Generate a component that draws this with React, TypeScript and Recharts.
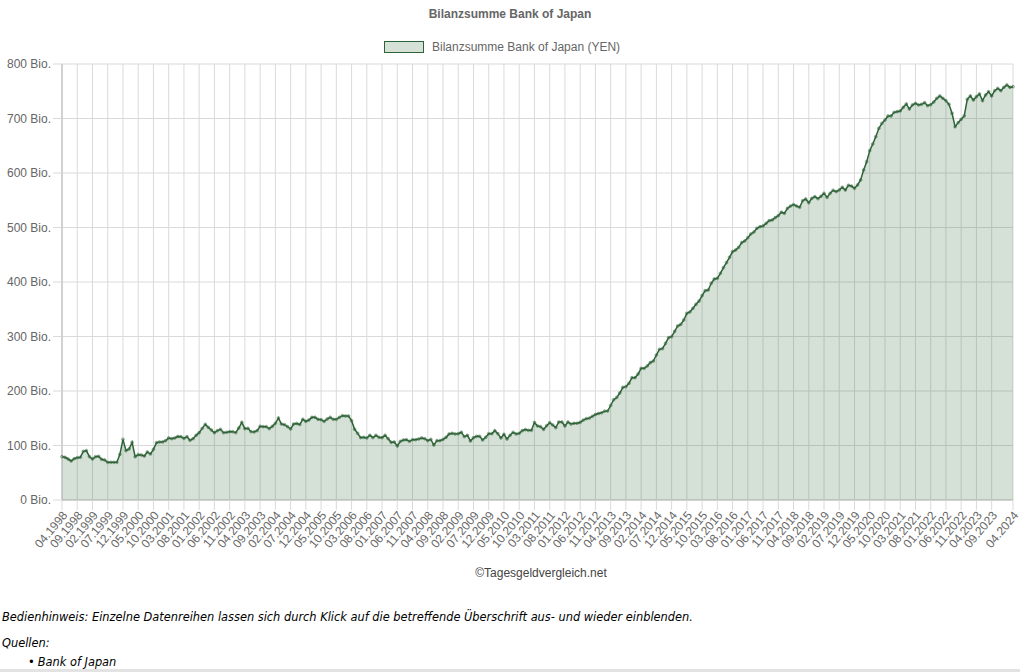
import React from 'react';
import { AreaChart, Area, XAxis, YAxis, CartesianGrid } from 'recharts';

// Bilanzsumme Bank of Japan, monthly from 04.1998 to 04.2024, in Bio. YEN
const startYear = 1998;
const startMonth = 4;

const bilanzsumme: number[] = [
  79.5, 78.3, 75.2, 71.6, 75.8, 77.7, 78.3, 89.3, 90.5, 79.5, 75.2, 79.5,
  80.1, 74.6, 73.4, 69.1, 69.1, 69.1, 69.1, 83.8, 111.3, 90.5, 93.6, 105.8,
  79.5, 83.2, 82.6, 80.7, 88.1, 84.4, 93.0, 105.2, 106.4, 106.4, 108.9, 113.8,
  112.5, 113.8, 116.5, 116.2, 113.1, 116.2, 109.5, 112.5, 118.7, 123.5, 131.5, 138.8,
  133.3, 128.4, 123.5, 127.2, 129.7, 123.5, 124.2, 125.4, 125.4, 123.5, 132.1, 142.5,
  130.9, 131.5, 125.4, 124.8, 127.2, 135.2, 134.6, 134.6, 130.9, 135.2, 140.7, 150.5,
  139.4, 138.2, 134.6, 130.3, 139.4, 140.4, 138.5, 148.0, 144.3, 146.8, 151.7, 151.7,
  148.0, 147.4, 144.3, 148.6, 151.7, 148.0, 148.0, 151.7, 154.7, 154.1, 154.1, 145.5,
  129.7, 122.3, 114.4, 115.0, 113.8, 118.7, 114.4, 118.7, 115.0, 114.4, 118.7, 112.5,
  105.8, 106.4, 99.1, 107.6, 110.1, 110.7, 107.6, 110.7, 110.7, 111.9, 113.8, 112.5,
  108.9, 111.3, 100.9, 108.9, 108.9, 111.3, 115.0, 121.1, 122.3, 121.1, 121.7, 124.2,
  116.2, 118.7, 108.3, 114.4, 116.8, 116.8, 110.1, 115.0, 121.7, 121.7, 127.2, 121.7,
  113.8, 120.5, 111.9, 118.7, 124.2, 121.1, 122.3, 127.2, 129.1, 127.8, 127.8, 142.2,
  135.8, 134.6, 129.7, 136.4, 141.9, 137.6, 132.7, 143.1, 143.1, 135.8, 143.1, 139.4,
  140.7, 140.7, 142.5, 146.5, 149.2, 150.2, 153.5, 156.9, 158.7, 160.0, 163.0, 163.3,
  173.4, 184.1, 188.1, 196.3, 206.7, 208.0, 214.1, 224.5, 224.5, 231.2, 241.6, 241.6,
  245.9, 252.0, 255.0, 266.0, 276.5, 277.7, 287.5, 297.9, 299.7, 309.5, 319.3, 322.3,
  330.3, 342.5, 345.0, 351.7, 359.0, 365.0, 375.0, 384.1, 385.3, 397.6, 405.5, 406.7,
  415.9, 426.3, 435.5, 445.3, 455.7, 458.7, 463.6, 472.2, 475.2, 481.3, 488.1, 491.7,
  498.5, 501.5, 502.8, 507.6, 512.5, 513.8, 518.0, 521.7, 528.0, 526.0, 535.2, 539.4,
  541.9, 539.4, 537.0, 549.2, 552.3, 545.6, 553.5, 556.6, 552.9, 557.2, 562.7, 555.3,
  562.7, 568.2, 565.8, 568.8, 573.7, 568.8, 577.4, 576.1, 571.9, 578.0, 587.2, 605.5,
  620.8, 641.0, 653.2, 666.7, 682.0, 691.1, 697.2, 704.6, 704.6, 711.3, 712.5, 713.8,
  720.5, 726.6, 717.4, 724.8, 727.8, 724.8, 726.0, 729.1, 723.5, 725.4, 730.3, 737.0,
  741.3, 737.0, 732.7, 726.0, 709.5, 685.0, 692.4, 698.5, 704.6, 735.2, 741.3, 733.9,
  740.1, 745.0, 732.7, 743.1, 749.2, 741.3, 751.1, 755.3, 751.1, 757.2, 761.5, 757.2,
  758.4,
];

const monthLabels: string[] = bilanzsumme.map((_, i) => {
  const k = startMonth - 1 + i;
  const m = (k % 12) + 1;
  const y = startYear + Math.floor(k / 12);
  return `${String(m).padStart(2, '0')}.${y}`;
});

const xTickLabels: string[] = [
  '04.1998', '09.1998', '02.1999', '07.1999', '12.1999', '05.2000', '10.2000', '03.2001',
  '08.2001', '01.2002', '06.2002', '11.2002', '04.2003', '09.2003', '02.2004', '07.2004',
  '12.2004', '05.2005', '10.2005', '03.2006', '08.2006', '01.2007', '06.2007', '11.2007',
  '04.2008', '09.2008', '02.2009', '07.2009', '12.2009', '05.2010', '10.2010', '03.2011',
  '08.2011', '01.2012', '06.2012', '11.2012', '04.2013', '09.2013', '02.2014', '07.2014',
  '12.2014', '05.2015', '10.2015', '03.2016', '08.2016', '01.2017', '06.2017', '11.2017',
  '04.2018', '09.2018', '02.2019', '07.2019', '12.2019', '05.2020', '10.2020', '03.2021',
  '08.2021', '01.2022', '06.2022', '11.2022', '04.2023', '09.2023', '04.2024',
];

const yTickValues: number[] = [0, 100, 200, 300, 400, 500, 600, 700, 800];

const seriesName = 'Bilanzsumme Bank of Japan (YEN)';
const chartTitle = 'Bilanzsumme Bank of Japan';

const data = monthLabels.map((label, i) => ({ label, value: bilanzsumme[i] }));

const LINE = '#2e6337';
const FONT = '"Liberation Sans", Arial, Helvetica, sans-serif';
const NOTE_FONT = '"DejaVu Sans", Verdana, sans-serif';
const GRID = '#dadada';

const RotTick = (props: any) => {
  const { x, y, payload } = props;
  const ax = x + 3;
  const ay = y + 1;
  return (
    <text
      x={ax}
      y={ay}
      transform={`rotate(-50, ${ax}, ${ay})`}
      textAnchor="end"
      dominantBaseline="central"
      fontSize={12}
      fill="#666"
      fontFamily={FONT}
    >
      {payload.value}
    </text>
  );
};

export default function App() {
  return (
    <div style={{ position: 'absolute', left: 0, top: 0, width: 1020, height: 672, background: '#fff', overflow: 'hidden' }}>
      <div style={{ position: 'absolute', left: 0, top: 7, width: 1020, textAlign: 'center', fontFamily: FONT, fontSize: 12, fontWeight: 'bold', color: '#666' }}>
        {chartTitle}
      </div>
      <div style={{ position: 'absolute', left: 384, top: 41, width: 40, height: 12, boxSizing: 'border-box', border: `1px solid ${LINE}`, background: 'rgba(46,99,55,0.2)' }} />
      <div style={{ position: 'absolute', left: 432, top: 40, fontFamily: FONT, fontSize: 12, color: '#666', whiteSpace: 'nowrap' }}>
        {seriesName}
      </div>
      <div style={{ position: 'absolute', left: 0, top: 0 }}>
        <AreaChart width={1020} height={600} data={data} margin={{ top: 64, right: 7, bottom: 0, left: 0 }}>
          <CartesianGrid stroke={GRID} strokeWidth={1} />
          <XAxis
            dataKey="label"
            scale="point"
            padding={{ left: 0, right: 0 }}
            ticks={xTickLabels}
            interval={0}
            tickSize={10}
            tickMargin={2}
            height={100}
            tick={<RotTick />}
            tickLine={{ stroke: GRID }}
            axisLine={{ stroke: '#b5b5b5' }}
          />
          <YAxis
            domain={[0, 800]}
            ticks={yTickValues}
            interval={0}
            width={62}
            tickSize={9}
            tickMargin={2}
            tickFormatter={(v: number) => `${v} Bio.`}
            tick={{ fontSize: 12, fill: '#666', fontFamily: FONT }}
            tickLine={{ stroke: GRID }}
            axisLine={{ stroke: '#b5b5b5' }}
          />
          <Area
            type="linear"
            dataKey="value"
            stroke={LINE}
            strokeWidth={1.5}
            fill={LINE}
            fillOpacity={0.2}
            dot={{ r: 1.4, fill: LINE, stroke: LINE, strokeWidth: 0.5 }}
            activeDot={false}
            isAnimationActive={false}
          />
        </AreaChart>
      </div>
      <div style={{ position: 'absolute', left: 0, top: 566, width: 1082, textAlign: 'center', fontFamily: FONT, fontSize: 12, color: '#444' }}>
        ©Tagesgeldvergleich.net
      </div>
      <div style={{ position: 'absolute', left: 2, top: 610, fontFamily: NOTE_FONT, fontSize: 11.4, fontStyle: 'italic', color: '#000', whiteSpace: 'nowrap' }}>
        Bedienhinweis: Einzelne Datenreihen lassen sich durch Klick auf die betreffende Überschrift aus- und wieder einblenden.
      </div>
      <div style={{ position: 'absolute', left: 2, top: 636, fontFamily: NOTE_FONT, fontSize: 11.4, fontStyle: 'italic', color: '#000' }}>
        Quellen:
      </div>
      <div style={{ position: 'absolute', left: 28, top: 655, fontFamily: NOTE_FONT, fontSize: 11.4, fontStyle: 'italic', color: '#000', whiteSpace: 'nowrap' }}>
        <span style={{ fontStyle: 'normal', marginRight: 3 }}>•</span>Bank of Japan
      </div>
      <div style={{ position: 'absolute', left: 0, top: 669, width: 1020, height: 3, background: '#e3e3e3' }} />
    </div>
  );
}
